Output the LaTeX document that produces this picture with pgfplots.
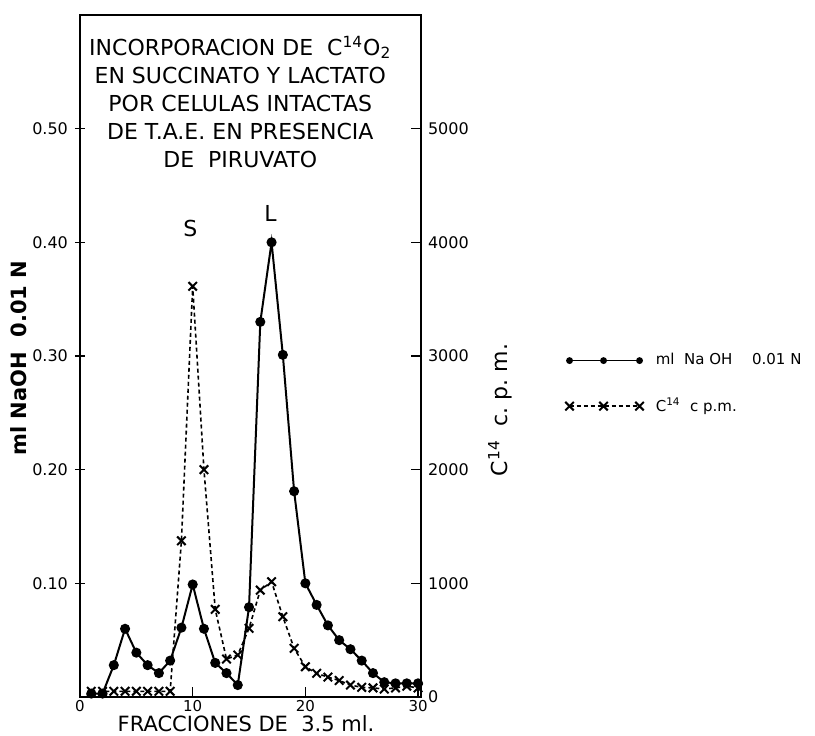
\documentclass[border=0pt]{standalone}
\usepackage{pgfplots}
\pgfplotsset{compat=1.18}
\usepackage{fontspec}
\setmainfont{DejaVu Sans}
\usetikzlibrary{calc}

\pgfplotstableread{
x y
1 0.003
2 0.003
3 0.028
4 0.060
5 0.039
6 0.028
7 0.021
8 0.032
9 0.061
10 0.099
11 0.060
12 0.030
13 0.021
14 0.0105
15 0.079
16 0.330
17 0.400
18 0.301
19 0.181
20 0.100
21 0.081
22 0.063
23 0.050
24 0.042
25 0.032
26 0.021
27 0.013
28 0.012
29 0.012
30 0.012
}\naoh

\pgfplotstableread{
x y
1 50
2 50
3 50
4 50
5 50
6 50
7 50
8 50
9 1374
10 3613
11 2000
12 771
13 334
14 369
15 604
16 940
17 1014
18 706
19 428
20 266
21 208
22 175
23 145
24 105
25 85
26 80
27 70
28 80
29 95
30 80
}\cpm

\begin{document}
\begin{tikzpicture}
\pgfplotsset{
  every axis/.append style={
    scale only axis, width=170.5pt, height=341pt,
    xmin=0, xmax=30.26,
    /pgf/number format/assume math mode=true,
    /pgf/number format/1000 sep={},
    tick style={black, line width=0.7pt},
    major tick length=5pt,
    axis line style={line width=1pt},
    tick label style={font=\fontsize{8}{8}\selectfont},
  },
  legend image code/.code={\draw[mark repeat=1,#1] plot coordinates {(0pt,0pt) (17pt,0pt) (35pt,0pt)};},
}
\begin{axis}[
  name=main,
  ymin=0, ymax=0.6,
  ytick={0.1,0.2,0.3,0.4,0.5},
  yticklabel style={/pgf/number format/fixed, /pgf/number format/fixed zerofill, /pgf/number format/precision=2},
  ytick pos=left, ytick align=center,
  xtick={0,10,20,30}, xtick pos=bottom, xtick align=inside,
  xticklabel style={yshift=2pt, font=\fontsize{7.5}{7.5}\selectfont},
  xlabel={FRACCIONES DE\ \ 3.5 ml.},
  xlabel style={at={(axis description cs:0.487,0)}, anchor=center, yshift=-13.5pt, font=\fontsize{10.5}{11}\selectfont},
  ylabel={ml\ NaOH\ \ 0.01 N},
  ylabel style={at={(axis description cs:-0.179,0.497)}, anchor=center, font=\fontsize{10.5}{11}\bfseries},
]
\addplot[black, line width=1pt, mark=*, mark size=2pt] table[x=x,y=y] {\naoh};
\node[align=center, font=\fontsize{11}{14}\selectfont] at (rel axis cs:0.47,0.873)
  {INCORPORACION DE\ \ C\textsuperscript{14}O\textsubscript{2}\\
   EN SUCCINATO Y LACTATO\\
   POR CELULAS INTACTAS\\
   DE T.A.E. EN PRESENCIA\\
   DE\ \ PIRUVATO};
\node[font=\fontsize{11}{11}\selectfont] at (axis cs:9.8,0.412) {S};
\node[font=\fontsize{11}{11}\selectfont] at (axis cs:16.9,0.425) {L};
\end{axis}
\begin{axis}[
  ymin=0, ymax=6000,
  axis y line*=right, axis x line=none,
  ytick={0,1000,2000,3000,4000,5000}, ytick align=inside,
  yticklabel style={/pgf/number format/fixed},
  ylabel={C\textsuperscript{14}\ \ c.\ p.\ m.},
  ylabel style={at={(axis description cs:1.232,0.421)}, anchor=center, rotate=0, font=\fontsize{11}{11}\selectfont},
  legend style={at={(axis description cs:1.422,0.459)}, anchor=west, draw=none, fill=none, inner sep=0pt,
    font=\fontsize{7.5}{8}\selectfont, row sep=11pt, column sep=4pt},
  legend cell align=left,
]
\addlegendimage{black, line width=0.8pt, mark=*, mark size=1.3pt}
\addlegendentry{ml\ \ Na OH\quad\ 0.01 N}
\addplot[black, line width=0.8pt, dash pattern=on 2pt off 1.5pt, mark=x, mark size=3pt, mark options={solid, line width=1pt}] table[x=x,y=y] {\cpm};
\addlegendentry{C\textsuperscript{14}\ \ c p.m.}
\end{axis}
\pgfresetboundingbox
\path[use as bounding box] ($(main.south west)+(-40pt,-19.5pt)$) rectangle ($(main.north east)+(197pt,7.5pt)$);
\end{tikzpicture}
\end{document}
